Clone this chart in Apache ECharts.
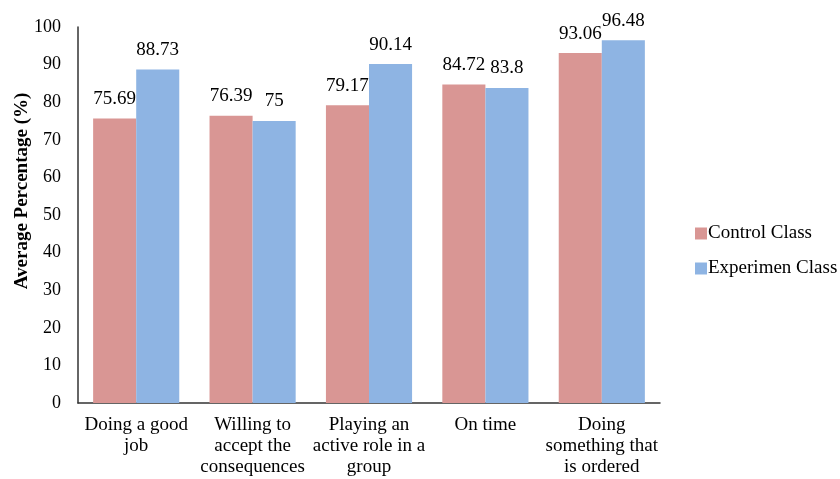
<!DOCTYPE html>
<html><head><meta charset="utf-8">
<script src="https://cdn.jsdelivr.net/npm/echarts@6/dist/echarts.min.js"></script>
<style>html,body{margin:0;padding:0;background:#fff}#c{width:840px;height:479px}</style>
</head><body><div id="c"></div>
<script>
const categories = ["Doing a good\njob", "Willing to\naccept the\nconsequences", "Playing an\nactive role in a\ngroup", "On time", "Doing\nsomething that\nis ordered"];
const controlClass = [75.69, 76.39, 79.17, 84.72, 93.06];
const experimenClass = [88.73, 75, 90.14, 83.8, 96.48];
const seriesNames = ["Control Class", "Experimen Class"];
const yTicks = {min: 0, max: 100, interval: 10};

const font = "Liberation Serif";
const chart = echarts.init(document.getElementById('c'));
chart.setOption({
  animation: false,
  textStyle: {fontFamily: font},
  color: ["#D99694", "#8EB4E3"],
  grid: {left: 78, right: 180, top: 27, bottom: 76, containLabel: false, outerBoundsMode: 'none'},
  legend: {
    orient: 'vertical', left: 690, top: 218, itemWidth: 12, itemHeight: 12, itemGap: 14,
    icon: 'rect',
    textStyle: {fontFamily: font, fontSize: 19, color: '#000', padding: [0,0,0,-4], lineHeight: 21},
    data: seriesNames
  },
  xAxis: {
    type: 'category', data: categories,
    axisLine: {lineStyle: {color: '#333', width: 1.5}},
    axisTick: {show: false},
    axisLabel: {fontFamily: font, fontSize: 19, color: '#000', lineHeight: 21, margin: 12, interval: 0}
  },
  yAxis: {
    type: 'value', min: yTicks.min, max: yTicks.max, interval: yTicks.interval,
    name: 'Average Percentage (%)', nameLocation: 'middle', nameGap: 46, nameMoveOverlap: false,
    nameTextStyle: {fontFamily: font, fontSize: 19, fontWeight: 'bold', color: '#000', padding: [0,0,0,48]},
    axisLine: {show: true, lineStyle: {color: '#333', width: 1.5}},
    axisTick: {show: false},
    splitLine: {show: false},
    axisLabel: {fontFamily: font, fontSize: 18, color: '#000', margin: 17}
  },
  series: [
    {name: seriesNames[0], type: 'bar', data: controlClass, barGap: 0, barCategoryGap: '26%',
     label: {show: true, position: 'top', distance: 10, fontFamily: font, fontSize: 19, color: '#000'}},
    {name: seriesNames[1], type: 'bar', data: experimenClass, barGap: 0, barCategoryGap: '26%',
     label: {show: true, position: 'top', distance: 10, fontFamily: font, fontSize: 19, color: '#000'}}
  ]
});
</script></body></html>
